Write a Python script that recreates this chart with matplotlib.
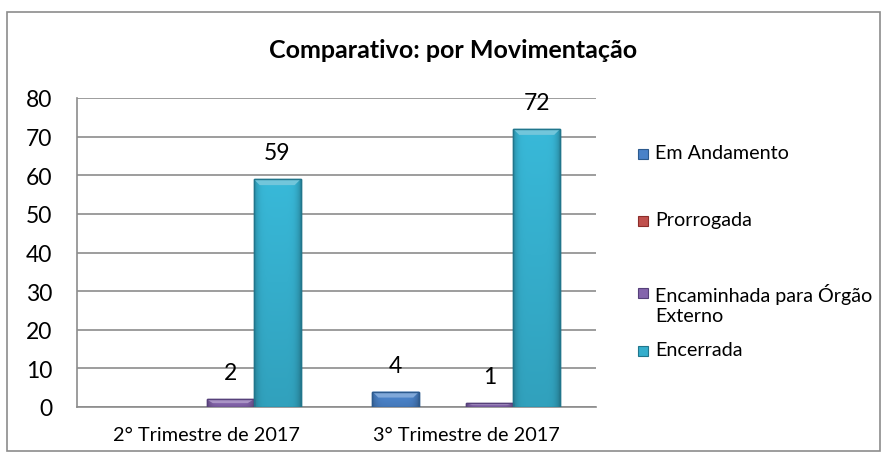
import numpy as np
import matplotlib
matplotlib.use("Agg")
from matplotlib import pyplot as plt
from matplotlib.patches import Rectangle, Polygon
from matplotlib.colors import to_rgb

plt.rcParams['font.family'] = ['Lato', 'DejaVu Sans']

categorias = ["2° Trimestre de 2017", "3° Trimestre de 2017"]
series = ["Em Andamento", "Prorrogada", "Encaminhada para Órgão\nExterno", "Encerrada"]
em_andamento = [0, 4]
prorrogada = [0, 0]
encaminhada = [2, 1]
encerrada = [59, 72]
valores = [em_andamento, prorrogada, encaminhada, encerrada]

cores = ["#4A82C8", "#C0504D", "#8464AC", "#35AECC"]
bordas = ["#2C5A8E", "#8C2D2A", "#56407A", "#21768C"]

W, H = 888, 456
fig = plt.figure(figsize=(W / 100, H / 100), dpi=100)
ax = fig.add_axes([77 / W, 1 - 408 / H, (596 - 77) / W, (408 - 99) / H])

def gradiente(cor, n=40):
    # bordas laterais mais escuras e base um pouco mais escura (bisel do Excel)
    base = np.array(to_rgb(cor))
    t = np.linspace(-1, 1, n)
    fx = 1.03 - 0.25 * t ** 6
    fy = np.linspace(1.03, 0.9, n)
    f = fy[:, None] * fx[None, :]
    return np.clip(base[None, None, :] * f[:, :, None], 0, 1)

def clarear(cor, k=0.3):
    c = np.array(to_rgb(cor))
    return tuple(c + (1 - c) * k)

px_x = 2.0 / (596 - 77)     # unidades de dado por pixel
px_y = 80.0 / (408 - 99)

x = np.arange(len(categorias))
larg = 0.181
for i, (vals, c, b) in enumerate(zip(valores, cores, bordas)):
    pos = x + (i - 1.5) * larg
    barras = ax.bar(pos, vals, width=larg, color=c, edgecolor=b, linewidth=1.0,
                    zorder=3)
    for xp, v, r in zip(pos, vals, barras):
        if v > 0:
            x0, x1 = r.get_x(), r.get_x() + r.get_width()
            im = ax.imshow(gradiente(c), extent=[x0, x1, 0, v], aspect="auto",
                           origin="upper", zorder=3.2)
            im.set_clip_path(r)
            dy = min(6 * px_y, v / 2)
            dx = 6 * px_x
            ax.add_patch(Polygon([(x0, v), (x1, v), (x1 - dx, v - dy), (x0 + dx, v - dy)],
                                 closed=True, facecolor=clarear(c, 0.3),
                                 edgecolor="none", zorder=3.3))
            ax.add_patch(Rectangle((x0, 0), x1 - x0, v, fill=False,
                                   edgecolor=b, linewidth=1.0, zorder=3.4))
            ax.annotate(str(v), (xp, v), xytext=(0, 19), textcoords="offset points",
                        ha="center", va="center", fontsize=16.5)
        else:
            r.set_visible(False)

ax.set_xlim(-0.5, 1.5)
ax.set_ylim(0, 80)
ax.set_yticks(range(0, 81, 10))
ax.tick_params(axis="y", length=0, labelsize=16.5, pad=18)
ax.tick_params(axis="x", length=0, labelsize=14.3, pad=14)
ax.set_xticks(x)
ax.set_xticklabels(categorias)
ax.grid(axis="y", color="#8C8C8C", linewidth=1.2, zorder=0)
for s in ["top", "right"]:
    ax.spines[s].set_visible(False)
for s in ["left", "bottom"]:
    ax.spines[s].set_color("#8C8C8C")
    ax.spines[s].set_linewidth(1.2)

fig.text(453.5 / W, 1 - 50 / H, "Comparativo: por Movimentação", ha="center",
         va="center", fontsize=18, fontweight="bold")

# legenda à direita (espaçamento irregular como no Excel)
leg_y = [155, 222, 294, 352]
for nome, c, b, yy in zip(series, cores, bordas, leg_y):
    fig.patches.append(Rectangle((638 / W, 1 - (yy + 5) / H), 10 / W, 10 / H,
                                 transform=fig.transFigure, facecolor=c,
                                 edgecolor=b, linewidth=0.8))
    fig.text(655 / W, 1 - (yy - 10) / H, nome, ha="left", va="top",
             fontsize=14.2, linespacing=1.25)

fig.patches.append(Rectangle((7 / W, 1 - 452 / H), 873 / W, 439 / H,
                             transform=fig.transFigure, fill=False,
                             edgecolor="#8C8C8C", linewidth=1.2))

plt.savefig("out.png", dpi=100)
